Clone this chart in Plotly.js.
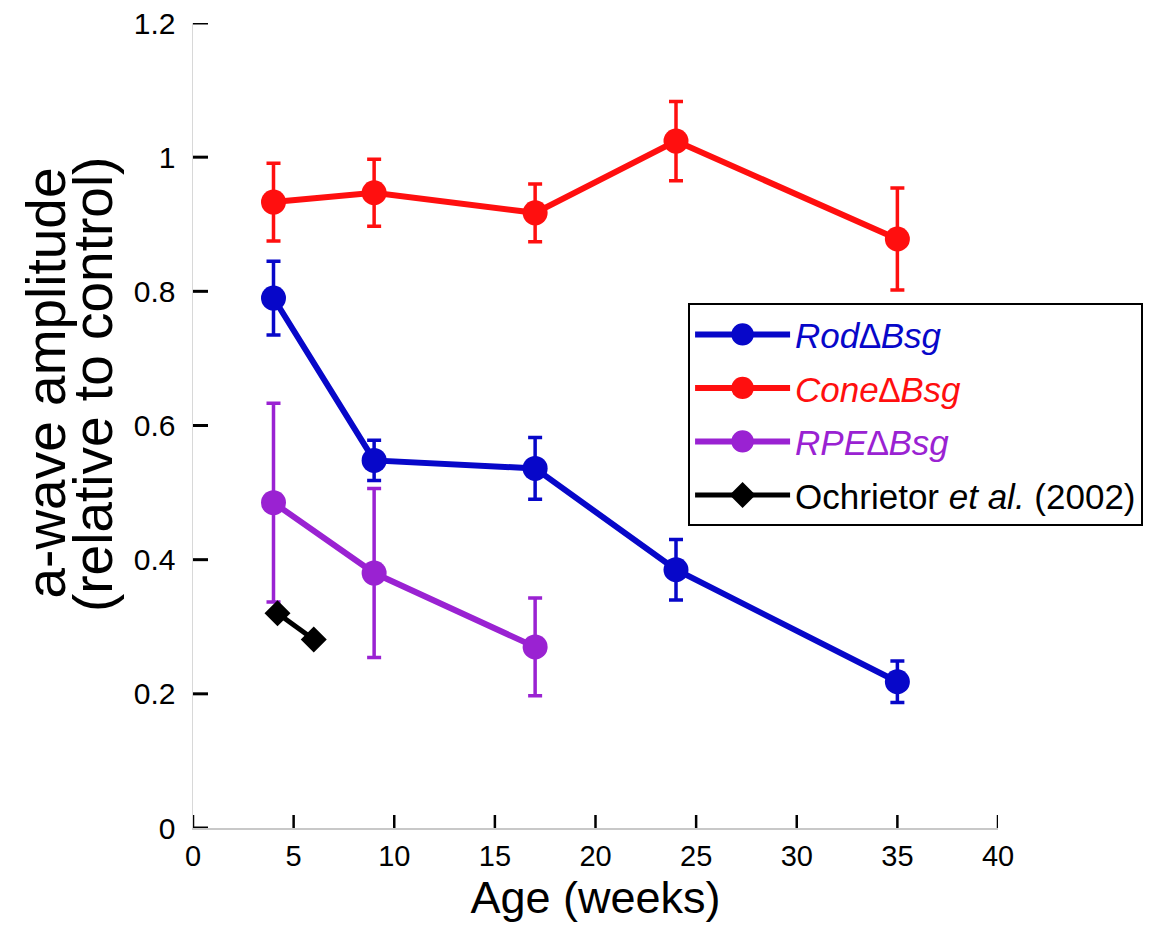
<!DOCTYPE html>
<html>
<head>
<meta charset="utf-8">
<script src="https://cdn.plot.ly/plotly-3.0.1.min.js"></script>
<style>
html,body{margin:0;padding:0;background:#fff;}
#chart{width:1154px;height:933px;}
</style>
</head>
<body>
<div id="chart"></div>
<script>
// Age (weeks)
const rodX = [4, 9, 17, 24, 35];
const rodY = [0.790, 0.548, 0.536, 0.385, 0.218];
const rodErr = [0.055, 0.030, 0.046, 0.045, 0.031];

const coneX = [4, 9, 17, 24, 35];
const coneY = [0.933, 0.947, 0.917, 1.024, 0.878];
const coneErr = [0.058, 0.050, 0.043, 0.059, 0.076];

const rpeX = [4, 9, 17];
const rpeY = [0.485, 0.380, 0.270];
const rpeErr = [0.148, 0.126, 0.073];

const ochX = [4.2, 6];
const ochY = [0.320, 0.281];

const seriesNames = ["Rod∆Bsg", "Cone∆Bsg", "RPE∆Bsg", "Ochrietor <i>et al.</i> (2002)"];
const xTicks = [0, 5, 10, 15, 20, 25, 30, 35, 40];
const yTicks = [0, 0.2, 0.4, 0.6, 0.8, 1, 1.2];
const yTitleLines = ["a-wave amplitude", "(relative to control)"];
const xTitle = "Age (weeks)";

const BLUE = "#0707c9", RED = "#ff0f0f", PURPLE = "#9a22d2", BLACK = "#000000";
const SANS = "Liberation Sans, Arial, sans-serif";

function errTrace(x, y, e, color, name, grp) {
  return {
    x: x, y: y, type: "scatter", mode: "lines+markers",
    name: '<span style="color:' + color + '"><i>' + name + '</i></span>',
    legendgroup: grp,
    line: {color: color, width: 6},
    marker: {color: color, size: 25, symbol: "circle"},
    error_y: {type: "data", array: e, visible: true, color: color, thickness: 3.5, width: 7}
  };
}

const traces = [
  errTrace(rodX, rodY, rodErr, BLUE, seriesNames[0], "g1"),
  errTrace(coneX, coneY, coneErr, RED, seriesNames[1], "g2"),
  errTrace(rpeX, rpeY, rpeErr, PURPLE, seriesNames[2], "g3"),
  {
    x: ochX, y: ochY, type: "scatter", mode: "lines+markers",
    name: seriesNames[3], legendgroup: "g4",
    line: {color: BLACK, width: 5},
    marker: {color: BLACK, size: 20, symbol: "diamond"}
  }
];

// tick marks drawn on the library's axes (inside ticks, "L" at the origin)
const tickShapes = [];
xTicks.forEach(function (t) {
  tickShapes.push({type: "line", xref: "x", yref: "y", x0: t, x1: t,
    ysizemode: "pixel", yanchor: 0, y0: 0, y1: 13,
    line: {color: "#000", width: 2.5}, layer: "above"});
});
yTicks.forEach(function (t) {
  tickShapes.push({type: "line", xref: "x", yref: "y", y0: t, y1: t,
    xsizemode: "pixel", xanchor: 0, x0: 0, x1: 15,
    line: {color: "#000", width: 3}, layer: "above"});
});

const layout = {
  width: 1154, height: 933,
  margin: {l: 193, r: 156, t: 23, b: 105, autoexpand: false},
  paper_bgcolor: "#fff", plot_bgcolor: "#fff",
  showlegend: true,
  font: {family: SANS, color: "#000"},
  legend: {
    x: 0.615, y: 0.652, xanchor: "left", yanchor: "top",
    bgcolor: "#fff", bordercolor: "#000", borderwidth: 2,
    font: {family: SANS, size: 35, color: "#000"},
    tracegroupgap: 5, itemwidth: 95,
    traceorder: "grouped"
  },
  xaxis: {
    range: [0, 40], tickmode: "array", tickvals: xTicks, ticktext: xTicks.map(String),
    ticks: "", automargin: false,
    showline: true, linecolor: "#c8c8c8", linewidth: 1.5,
    showgrid: false, zeroline: false,
    tickfont: {family: SANS, size: 29, color: "#000"},
    ticklabelstandoff: 2,
    title: {text: xTitle, font: {family: SANS, size: 45, color: "#000"}, standoff: 0}
  },
  yaxis: {
    range: [0, 1.2], tickmode: "array", tickvals: yTicks, ticktext: yTicks.map(String),
    ticks: "", automargin: false,
    showline: true, linecolor: "#d8d8d8", linewidth: 1.5,
    showgrid: false, zeroline: false,
    tickfont: {family: SANS, size: 30, color: "#000"},
    ticklabelstandoff: 10
  },
  shapes: tickShapes,
  annotations: [
    {text: yTitleLines[0], xref: "paper", yref: "paper", x: -0.183, y: 0.553,
     xanchor: "center", yanchor: "middle", textangle: -90, showarrow: false,
     font: {family: SANS, size: 55, color: "#000"}},
    {text: yTitleLines[1], xref: "paper", yref: "paper", x: -0.124, y: 0.5505,
     xanchor: "center", yanchor: "middle", textangle: -90, showarrow: false,
     font: {family: SANS, size: 55, color: "#000"}}
  ]
};

Plotly.newPlot("chart", traces, layout, {displayModeBar: false, staticPlot: true}).then(function () {
  // enlarge legend markers (legend caps marker size)
  document.querySelectorAll(".legend .legendpoints path.scatterpts").forEach(function (el, i) {
    const tr = el.getAttribute("transform") || "";
    el.setAttribute("transform", tr + (i === 3 ? " scale(1.25)" : " scale(1.4)"));
  });
});
</script>
</body>
</html>
